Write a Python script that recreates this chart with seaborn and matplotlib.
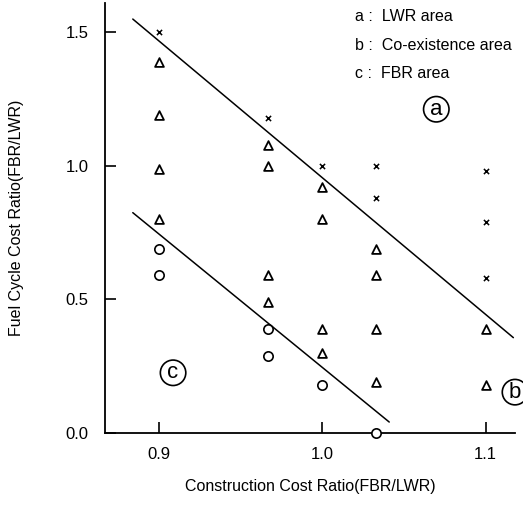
import numpy as np
import pandas as pd
import matplotlib.pyplot as plt
import seaborn as sns

# LWR area points (x markers)
lwr_x = [0.9, 0.967, 1.0, 1.033, 1.033, 1.1, 1.1, 1.1]
lwr_y = [1.50, 1.18, 1.00, 1.00, 0.88, 0.98, 0.79, 0.58]

# co-existence area points (triangles)
coex_x = [0.9, 0.9, 0.9, 0.9, 0.967, 0.967, 1.0, 1.0, 1.033, 0.967, 1.033,
          0.967, 1.0, 1.033, 1.1, 1.0, 1.033, 1.1]
coex_y = [1.39, 1.19, 0.99, 0.80, 1.08, 1.00, 0.92, 0.80, 0.69, 0.59, 0.59,
          0.49, 0.39, 0.39, 0.39, 0.30, 0.19, 0.18]

# FBR area points (circles)
fbr_x = [0.9, 0.9, 0.967, 0.967, 1.0, 1.033]
fbr_y = [0.69, 0.59, 0.39, 0.29, 0.18, 0.0]

# boundary lines
upper_x = [0.884, 1.117]
upper_y = [1.55, 0.357]
lower_x = [0.884, 1.041]
lower_y = [0.825, 0.041]

legend_lines = ["a :  LWR area", "b :  Co-existence area", "c :  FBR area"]

df = pd.DataFrame({
    "x": lwr_x + coex_x + fbr_x,
    "y": lwr_y + coex_y + fbr_y,
    "area": ["a"] * len(lwr_x) + ["b"] * len(coex_x) + ["c"] * len(fbr_x),
})

sns.set_style("ticks")
plt.rcParams['font.family'] = ['Liberation Sans', 'DejaVu Sans']
plt.rcParams['text.color'] = 'black'
plt.rcParams['axes.labelcolor'] = 'black'

fig = plt.figure(figsize=(5.23, 5.05), dpi=100)
ax = fig.add_axes([0.2008, 0.1426, 0.7839, 0.8514])

# x markers
sub = df[df.area == "a"]
ax.scatter(sub.x, sub.y, marker="x", s=14, c="black", linewidths=1.1, zorder=3, clip_on=False)
# triangles
sub = df[df.area == "b"]
ax.scatter(sub.x, sub.y, marker="^", s=40, facecolors="white", edgecolors="black",
           linewidths=1.3, zorder=3, clip_on=False)
# circles
sub = df[df.area == "c"]
ax.scatter(sub.x, sub.y, marker="o", s=45, facecolors="white", edgecolors="black",
           linewidths=1.2, zorder=3, clip_on=False)

sns.lineplot(x=upper_x, y=upper_y, color="black", linewidth=1.1, ax=ax)
sns.lineplot(x=lower_x, y=lower_y, color="black", linewidth=1.1, ax=ax)

ax.set_xlim(0.867, 1.118)
ax.set_ylim(0, 1.61)
ax.set_xticks([0.9, 1.0, 1.1])
ax.set_yticks([0.0, 0.5, 1.0, 1.5])
ax.xaxis.set_major_formatter(plt.FormatStrFormatter('%.1f'))
ax.yaxis.set_major_formatter(plt.FormatStrFormatter('%.1f'))
ax.tick_params(direction="in", length=8, width=1.2, labelsize=12, colors="black")
ax.tick_params(axis="y", pad=12)
ax.tick_params(axis="x", pad=10)
for s in ["left", "bottom"]:
    ax.spines[s].set_linewidth(1.3)
    ax.spines[s].set_color("black")
sns.despine(ax=ax)

ax.set_xlabel("Construction Cost Ratio(FBR/LWR)", fontsize=11.5, labelpad=12)
ax.set_ylabel("Fuel Cycle Cost Ratio(FBR/LWR)", fontsize=11.5, labelpad=30)

for i, t in enumerate(legend_lines):
    ax.text(0.61, 0.985 - i * 0.066, t, transform=ax.transAxes, fontsize=11.5, va="top")

circ = dict(boxstyle="circle,pad=0.1", fc="white", ec="black", lw=1.2)
ax.text(0.808, 0.753, "a", transform=ax.transAxes, fontsize=16, ha="center", va="center", bbox=circ)
ax.text(0.166, 0.14, "c", transform=ax.transAxes, fontsize=16, ha="center", va="center", bbox=circ)
ax.text(1.0, 0.095, "b", transform=ax.transAxes, fontsize=16, ha="center", va="center", bbox=circ)

plt.savefig("out.png", dpi=100)
plt.close()
